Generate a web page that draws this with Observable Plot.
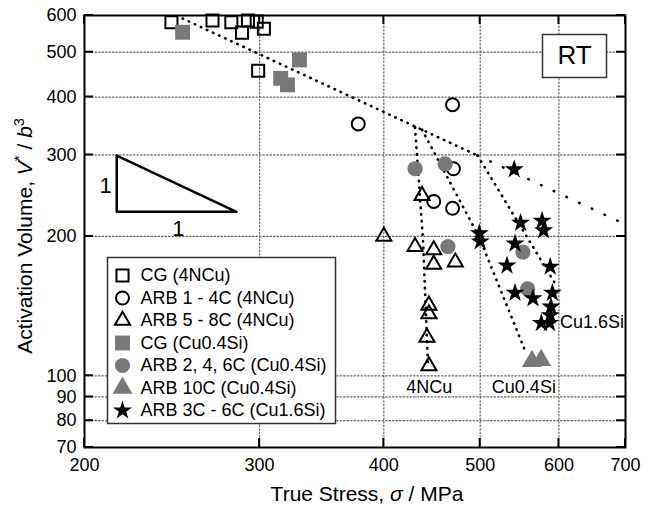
<!DOCTYPE html>
<html>
<head>
<meta charset="utf-8">
<script src="https://cdn.jsdelivr.net/npm/d3@7"></script>
<script src="https://cdn.jsdelivr.net/npm/@observablehq/plot@0.6"></script>
<style>
  body { margin: 0; background: #fff; }
  #chart svg { display: block; }
</style>
</head>
<body>
<div id="chart"></div>
<script>
// ---- tick labels ----
const xTicks = [200, 300, 400, 500, 600, 700];
const yTicks = [70, 80, 90, 100, 200, 300, 400, 500, 600];
const xGrid = [300, 400, 500, 600];
const yGrid = [80, 90, 100, 200, 300, 400, 500];
const xDomain = [200, 700];
const yDomain = [70, 600];

// ---- series (true stress in MPa, activation volume in b^3) ----
const cg4NCuX = [244.6, 269, 281, 288, 292, 298, 303, 299];
const cg4NCuY = [580, 585, 580, 551, 585, 582, 562, 456];

const arb14X = [377, 469, 470, 449, 469];
const arb14Y = [350, 385, 280, 238, 230];

const arb58X = [400, 437, 430, 449, 449, 472, 444, 444, 442, 444];
const arb58Y = [200, 245, 190, 187, 174, 176, 142, 136, 121, 105];

const cgCuSiX = [251, 329, 315, 320];
const cgCuSiY = [552, 481, 439, 425];

const arb246X = [430, 461, 464, 552, 558];
const arb246Y = [280, 287, 190, 185, 154];

const arb10X = [563.6, 575.8];
const arb10Y = [107.5, 108];

const arb36X = [541, 549, 577, 579, 499, 500, 542, 532, 588, 542, 565, 591, 589, 588, 576, 587];
const arb36Y = [279, 214, 216, 206, 203, 195, 193, 173, 172, 151, 147, 151, 141, 135, 130, 130];

// ---- guide lines ----
const mainDenseX = [251, 497];
const mainDenseY = [591, 299];
const mainSparseX = [497, 688];
const mainSparseY = [299, 216];
const line4NCuX = [430, 438, 443];
const line4NCuY = [344, 196, 106];
const lineCu04X = [437, 499, 556];
const lineCu04Y = [340, 199, 112];
const lineCu16X = [497, 595];
const lineCu16Y = [299, 158];

// ---- slope triangle ----
const triX = [215.5, 215.5, 284.4, 215.5];
const triY = [299, 226, 226, 299];
const triLabelX = [210, 248.6];
const triLabelY = [257.6, 208];
const triLabels = ["1", "1"];

// ---- alloy labels ----
const alloyLabels = ["4NCu", "Cu0.4Si"];
const alloyLabelX = [444.4, 553.2];
const alloyLabelY = [94.3, 94.3];
const cu16Label = ["Cu1.6Si"];
const cu16LabelX = [601.6];
const cu16LabelY = [130.3];

const legendNames = ["CG (4NCu)", "ARB 1 - 4C (4NCu)", "ARB 5 - 8C (4NCu)", "CG (Cu0.4Si)",
  "ARB 2, 4, 6C (Cu0.4Si)", "ARB 10C (Cu0.4Si)", "ARB 3C - 6C (Cu1.6Si)"];

const GRAY = "#787878";
const styles = [
  {symbol: "square", r: 6.8, fill: "none", stroke: "black", strokeWidth: 2},
  {symbol: "circle", r: 6.5, fill: "none", stroke: "black", strokeWidth: 2},
  {symbol: "triangle", r: 5.6, fill: "none", stroke: "black", strokeWidth: 2},
  {symbol: "square", r: 8.4, fill: GRAY, stroke: "none"},
  {symbol: "circle", r: 7.6, fill: GRAY, stroke: "none"},
  {symbol: "triangle", r: 7.4, fill: GRAY, stroke: "none"},
  {symbol: "star", r: 6, fill: "black", stroke: "none"}
];
const seriesX = [cg4NCuX, arb14X, arb58X, cgCuSiX, arb246X, arb10X, arb36X];
const seriesY = [cg4NCuY, arb14Y, arb58Y, cgCuSiY, arb246Y, arb10Y, arb36Y];

const toRows = (xs, ys) => xs.map((v, i) => ({x: v, y: ys[i]}));
const dotted = {stroke: "black", strokeWidth: 2.6, strokeLinecap: "round", strokeDasharray: "0.5,6.2"};
const gridStyle = {stroke: "#666", strokeWidth: 1.2, strokeDasharray: "1.5,2"};

// gridlines as two-point lines spanning the domain
const xGridRows = xGrid.flatMap(v => yDomain.map(y => ({x: v, y, g: v})));
const yGridRows = yGrid.flatMap(v => xDomain.map(x => ({x, y: v, g: v})));

const marks = [
  Plot.line(xGridRows, {x: "x", y: "y", z: "g", ...gridStyle}),
  Plot.line(yGridRows, {x: "x", y: "y", z: "g", ...gridStyle}),
  Plot.line(toRows(mainDenseX, mainDenseY), {x: "x", y: "y", ...dotted}),
  Plot.line(toRows(mainSparseX, mainSparseY), {x: "x", y: "y", ...dotted, strokeDasharray: "0.5,13.5"}),
  Plot.line(toRows(line4NCuX, line4NCuY), {x: "x", y: "y", ...dotted}),
  Plot.line(toRows(lineCu04X, lineCu04Y), {x: "x", y: "y", ...dotted}),
  Plot.line(toRows(lineCu16X, lineCu16Y), {x: "x", y: "y", ...dotted}),
  Plot.line(toRows(triX, triY), {x: "x", y: "y", stroke: "black", strokeWidth: 2.5}),
  Plot.text(toRows(triLabelX, triLabelY).map((d, i) => ({...d, t: triLabels[i]})),
    {x: "x", y: "y", text: "t", fontSize: 22, fill: "black"})
];
seriesX.forEach((xs, i) => {
  marks.push(Plot.dot(toRows(xs, seriesY[i]), {x: "x", y: "y", ...styles[i]}));
});
marks.push(
  Plot.text(toRows(alloyLabelX, alloyLabelY).map((d, i) => ({...d, t: alloyLabels[i]})),
    {x: "x", y: "y", text: "t", fontSize: 18, fill: "black"}),
  Plot.text(toRows(cu16LabelX, cu16LabelY).map((d, i) => ({...d, t: cu16Label[i]})),
    {x: "x", y: "y", text: "t", fontSize: 18, fill: "black", textAnchor: "start"})
);
marks.push(Plot.frame({insetLeft: 23, insetTop: 242, insetRight: 290, insetBottom: 24, fill: "white", stroke: "#333", strokeWidth: 1.5}));
legendNames.forEach((name, i) => {
  const dy = 260 + i * 22.5;
  marks.push(Plot.dot([name], {frameAnchor: "top-left", dx: 38, dy, ...styles[i]}));
  marks.push(Plot.text([name], {frameAnchor: "top-left", dx: 56, dy, text: d => d, textAnchor: "start", lineAnchor: "middle", fontSize: 18, fill: "black"}));
});
marks.push(Plot.frame({insetLeft: 458, insetRight: 19, insetTop: 19, insetBottom: 370, fill: "white", stroke: "#333", strokeWidth: 1.5}));
marks.push(Plot.text(["RT"], {frameAnchor: "top-right", dx: -51, dy: 40, text: d => d, textAnchor: "middle", lineAnchor: "middle", fontSize: 26, fill: "black"}));
marks.push(
  Plot.frame({stroke: "black", strokeWidth: 2}),
  Plot.axisX({anchor: "bottom", ticks: xTicks, tickSize: 0, tickPadding: 11, tickFormat: d => String(d), label: null}),
  Plot.axisY({anchor: "left", ticks: yTicks, tickSize: 0, tickPadding: 8, tickFormat: d => String(d), label: null})
);

const chart = Plot.plot({
  width: 648,
  height: 505,
  marginLeft: 84,
  marginRight: 23,
  marginTop: 15,
  marginBottom: 58,
  style: {fontFamily: "'Liberation Sans', Arial, sans-serif", fontSize: "18px", background: "white", color: "black"},
  x: {type: "log", domain: xDomain},
  y: {type: "log", domain: yDomain},
  marks
});

// inward frame ticks, positioned with Plot's own scales
const sx = chart.scale("x"), sy = chart.scale("y");
const X0 = sx.apply(xDomain[0]), X1 = sx.apply(xDomain[1]);
const Y0 = sy.apply(yDomain[0]), Y1 = sy.apply(yDomain[1]);
const L = 9;
let d = "";
xTicks.forEach(v => {
  const px = sx.apply(v);
  d += `M${px},${Y0}v${-L}M${px},${Y1}v${L}`;
});
yTicks.forEach(v => {
  const py = sy.apply(v);
  d += `M${X0},${py}h${L}M${X1},${py}h${-L}`;
});
const svg = d3.select(chart);
svg.append("path").attr("d", d).attr("fill", "none").attr("stroke", "black").attr("stroke-width", 2);

const xt = svg.append("text").attr("x", 367).attr("y", 501).attr("text-anchor", "middle")
  .attr("font-size", 21).attr("fill", "black");
xt.append("tspan").text("True Stress, ");
xt.append("tspan").attr("font-style", "italic").text("σ");
xt.append("tspan").text(" / MPa");

const yt = svg.append("text").attr("transform", "translate(32,236) rotate(-90)").attr("text-anchor", "middle")
  .attr("font-size", 21).attr("fill", "black");
yt.append("tspan").text("Activation Volume, ");
yt.append("tspan").attr("font-style", "italic").text("V");
yt.append("tspan").attr("baseline-shift", "super").attr("font-size", 15).text("*");
yt.append("tspan").text(" / ");
yt.append("tspan").attr("font-style", "italic").text("b");
yt.append("tspan").attr("baseline-shift", "super").attr("font-size", 14).text("3");

document.getElementById("chart").appendChild(chart);
</script>
</body>
</html>
